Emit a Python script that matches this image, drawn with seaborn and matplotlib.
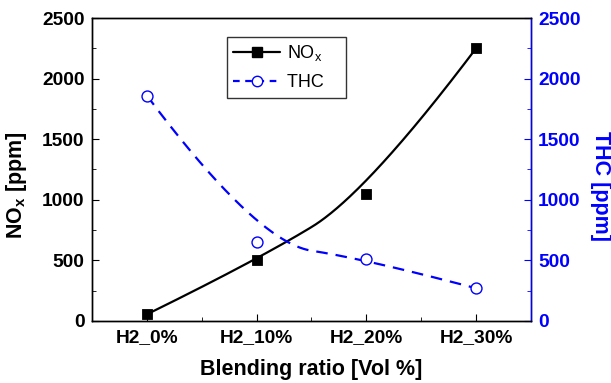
import numpy as np
import pandas as pd
import matplotlib
matplotlib.use("Agg")
import matplotlib.pyplot as plt
from matplotlib.lines import Line2D
from matplotlib.ticker import MultipleLocator
import seaborn as sns

categories = ["H2_0%", "H2_10%", "H2_20%", "H2_30%"]
nox = [55, 500, 1050, 2250]
thc = [1860, 650, 510, 270]

sns.set_style("ticks")
plt.rcParams["font.family"] = ["Liberation Sans", "DejaVu Sans"]
plt.rcParams["mathtext.fontset"] = "custom"
plt.rcParams["mathtext.rm"] = "Liberation Sans"
plt.rcParams["mathtext.bf"] = "Liberation Sans:bold"
for k in ["text.color", "axes.labelcolor", "xtick.color", "ytick.color", "axes.edgecolor"]:
    plt.rcParams[k] = "black"


def bspline2(px, py, num=300):
    """Clamped quadratic B-spline using the data points as control points."""
    px = np.asarray(px, float)
    py = np.asarray(py, float)
    n = len(px)
    deg = 2
    knots = np.concatenate([[0] * deg, np.arange(n - deg + 1), [n - deg] * deg]).astype(float)
    t = np.linspace(0, n - deg, num)
    t[-1] -= 1e-9

    def basis(i, d, tt):
        if d == 0:
            return np.where((knots[i] <= tt) & (tt < knots[i + 1]), 1.0, 0.0)
        a = 0.0
        den1 = knots[i + d] - knots[i]
        if den1 > 0:
            a = (tt - knots[i]) / den1 * basis(i, d - 1, tt)
        b = 0.0
        den2 = knots[i + d + 1] - knots[i + 1]
        if den2 > 0:
            b = (knots[i + d + 1] - tt) / den2 * basis(i + 1, d - 1, tt)
        return a + b

    B = np.array([basis(i, deg, t) for i in range(n)])
    return B.T @ px, B.T @ py


fig = plt.figure(figsize=(6.11, 3.83), dpi=100)
ax = fig.add_axes([0.1506, 0.1619, 0.7184, 0.7911])
ax2 = ax.twinx()

x = np.arange(len(categories))

nx, ny = bspline2(x, nox)
tx, ty = bspline2(x, thc)
df_n = pd.DataFrame({"x": nx, "y": ny})
df_t = pd.DataFrame({"x": tx, "y": ty})

sns.lineplot(data=df_n, x="x", y="y", ax=ax, color="black", lw=1.6, sort=False)
sns.scatterplot(x=x, y=nox, ax=ax, marker="s", color="black", s=55, edgecolor="black", zorder=5)
sns.lineplot(data=df_t, x="x", y="y", ax=ax2, color="blue", lw=1.6, sort=False)
ax2.lines[-1].set_linestyle((0, (5.2, 3.6)))
ax2.scatter(x, thc, marker="o", facecolor="white", edgecolor="blue", s=62, linewidth=1.0, zorder=5)

for a in (ax, ax2):
    a.set_xlim(-0.5, 3.5)
    a.set_ylim(0, 2500)
    a.yaxis.set_major_locator(MultipleLocator(500))
    a.yaxis.set_minor_locator(MultipleLocator(250))

fs_tick = 13.8
fs_lab = 15.5
ax.set_xticks(x)
ax.set_xticklabels(categories, fontsize=fs_tick, fontweight="bold")
ax.xaxis.set_minor_locator(MultipleLocator(0.5))
ax.tick_params(axis="x", which="both", direction="in", top=False)
ax.tick_params(axis="x", which="major", length=5, pad=6)
ax.tick_params(axis="x", which="minor", length=3)
ax.tick_params(axis="y", which="major", direction="in", length=5, labelsize=fs_tick, pad=5.5)
ax.tick_params(axis="y", which="minor", direction="in", length=3)
for lab in ax.get_yticklabels():
    lab.set_fontweight("bold")

ax2.tick_params(axis="y", which="major", direction="in", length=5, labelsize=fs_tick, colors="blue", pad=5)
ax2.tick_params(axis="y", which="minor", direction="in", length=3, colors="blue")
for lab in ax2.get_yticklabels():
    lab.set_fontweight("bold")

for a in (ax, ax2):
    for s in a.spines.values():
        s.set_linewidth(1.0)
        s.set_color("black")
ax2.spines["right"].set_color("blue")

ax.set_xlabel("Blending ratio [Vol %]", fontsize=fs_lab, fontweight="bold", labelpad=9)
ax.set_ylabel(r"NO$_\mathbf{x}$ [ppm]", fontsize=fs_lab, fontweight="bold", labelpad=9)
ax2.set_ylabel("THC [ppm]", fontsize=fs_lab, fontweight="bold", color="blue", rotation=270, labelpad=22)
ax.yaxis.label.set_y(0.45)
ax2.yaxis.label.set_y(0.445)

handles = [
    Line2D([], [], color="black", lw=1.6, marker="s", markersize=7),
    Line2D([], [], color="blue", lw=1.6, ls=(0, (3, 2.5)), marker="o", markersize=7.5,
           markerfacecolor="white", markeredgecolor="blue"),
]
leg = ax2.legend(handles, [r"NO$_\mathrm{x}$   ", "THC   "], loc="upper left",
                 bbox_to_anchor=(0.3075, 0.937), borderaxespad=0, fontsize=13, frameon=True,
                 fancybox=False, edgecolor="black", handlelength=2.6, borderpad=0.35,
                 labelspacing=0.6, handletextpad=0.4)
leg.get_frame().set_linewidth(1.0)

fig.savefig("out.png", dpi=100)
